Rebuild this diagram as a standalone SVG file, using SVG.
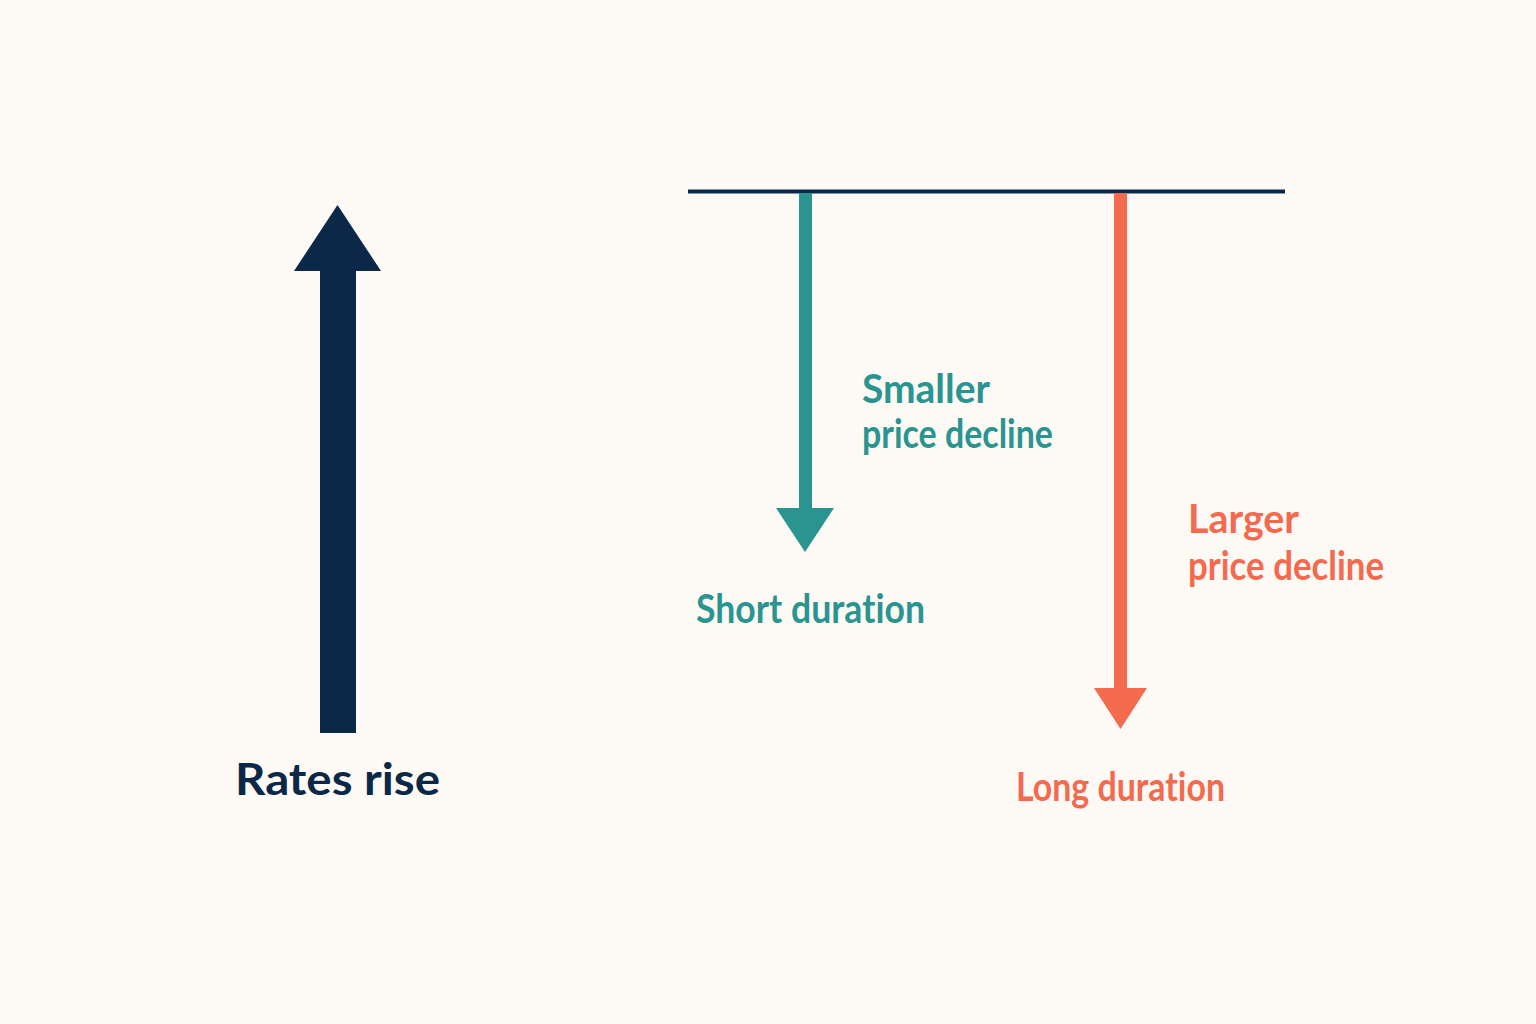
<svg xmlns="http://www.w3.org/2000/svg" width="1536" height="1024" viewBox="0 0 1536 1024">
<style>
text{font-family:"Lato","Noto Sans","Liberation Sans",sans-serif;font-weight:700;font-variant-ligatures:none}
.navy{fill:#0c2848}
.teal{fill:#2a9490}
.orange{fill:#f36a4f}
.lbl{font-size:41px}
</style>
<rect width="1536" height="1024" fill="#fdfaf6"/>
<g id="connectors">
<line x1="688" y1="191.5" x2="1285" y2="191.5" stroke="#0c2848" stroke-width="4"/>
<rect class="teal" x="799" y="193" width="13" height="317"/>
<polygon class="teal" points="776,508 834,508 805,552"/>
<rect class="orange" x="1114" y="193" width="13" height="497"/>
<polygon class="orange" points="1094,688 1147,688 1120.5,729"/>
</g>
<g id="rates-rise">
<rect class="navy" x="320" y="268" width="36" height="465"/>
<polygon class="navy" points="294,271 381,271 337.5,205"/>
<text class="navy" x="235" y="795" font-size="43" textLength="205" lengthAdjust="spacingAndGlyphs">Rates rise</text>
</g>
<g id="short-duration">
<text class="teal lbl" x="862" y="403" textLength="128" lengthAdjust="spacingAndGlyphs">Smaller</text>
<text class="teal lbl" x="862" y="448" textLength="191" lengthAdjust="spacingAndGlyphs">price decline</text>
<text class="teal lbl" x="696" y="623" textLength="229" lengthAdjust="spacingAndGlyphs">Short duration</text>
</g>
<g id="long-duration">
<text class="orange lbl" x="1188" y="533" textLength="111" lengthAdjust="spacingAndGlyphs">Larger</text>
<text class="orange lbl" x="1188" y="580" textLength="196" lengthAdjust="spacingAndGlyphs">price decline</text>
<text class="orange lbl" x="1016" y="801" textLength="209" lengthAdjust="spacingAndGlyphs">Long duration</text>
</g>
</svg>
